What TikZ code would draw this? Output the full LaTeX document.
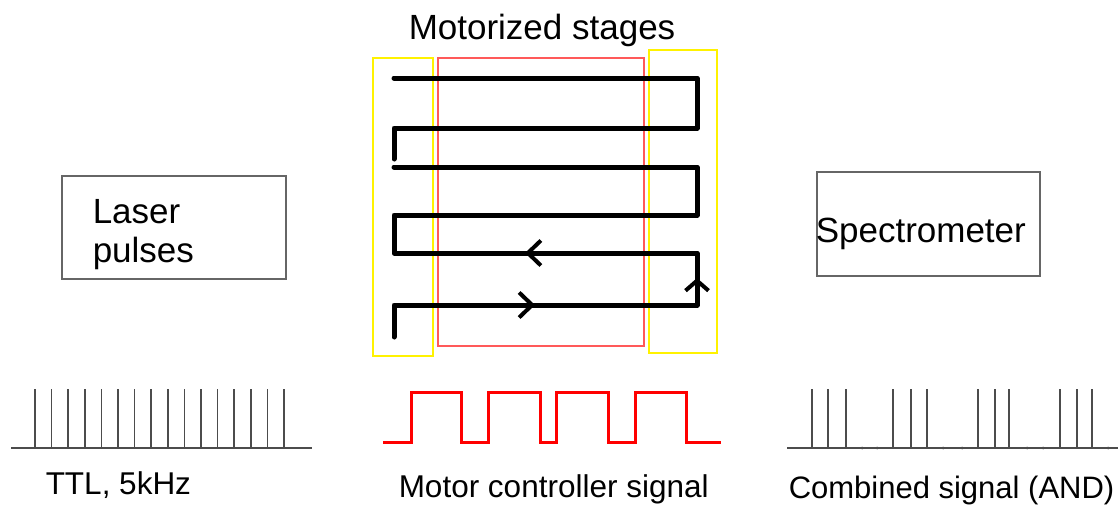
\documentclass[tikz,border=0pt]{standalone}
\usepackage{fontspec}
\setmainfont{Liberation Sans}
\usetikzlibrary{arrows.meta}
\begin{document}
\begin{tikzpicture}[x=1pt,y=-1pt,line width=1.5pt,
  every node/.style={inner sep=0pt,anchor=base west,font=\fontsize{35}{39}\selectfont},
  small/.style={font=\fontsize{31.5}{36}\selectfont},
  box/.style={draw=black!60,line width=1.6pt},
  pulse/.style={draw=black!70,line width=1.5pt},
  scan/.style={line width=5pt,line join=round,line cap=round},
  barb/.style={scan,line width=4pt,-{Straight Barb[length=13pt,width=25pt]}}]
  \path[use as bounding box] (0,0) rectangle (1118,504);
  % stages
  \node (stages) at (408,39) {Motorized stages};
  \draw[yellow] (373,58) rectangle (433,356);
  \draw[yellow] (649,50) rectangle (717,353);
  \draw[red!65] (438,58) rectangle (644,346);
  \draw[scan] (394,78)--(697,78)--(697,128)--(394,128)--(394,159);
  \draw[scan] (394,167)--(697,167)--(697,215)--(394,215)--(394,253)
    --(697,253)--(697,305)--(394,305)--(394,337);
  \draw[barb] (515,305)--(535,305);
  \draw[barb] (545,253)--(525,253);
  \draw[barb,-{Straight Barb[length=10pt,width=23pt]}] (697,297)--(697,278);
  % laser and spectrometer
  \draw[box] (62,176) rectangle (286,279);
  \node[align=left] (laser) at (92,262) {Laser\\pulses};
  \draw[box] (817,172) rectangle (1040,276);
  \node (spectro) at (815,242) {Spectrometer};
  % ttl pulses
  \draw[pulse] (11,448)--(312,448);
  \foreach \i in {0,...,15}
    \draw[pulse] ({35+16.6*\i},448)--++(0,-59);
  \node[small] (ttl) at (45,494) {TTL, 5kHz};
  % motor signal
  \draw[red,line width=3pt] (383,442)--(411,442)--(411,392)--(461,392)--(461,442)
    --(488,442)--(488,392)--(540,392)--(540,442)--(556,442)--(556,392)--(608,392)
    --(608,442)--(635,442)--(635,392)--(686,392)--(686,442)--(721,442);
  \node[small] (motor) at (398,497) {Motor controller signal};
  % combined
  \draw[pulse] (787,448)--(1118,448);
  \foreach \x in {812,828,846,893,911,927,978,995,1009,1060,1077,1092}
    \draw[pulse] (\x,448)--++(0,-59);
  \foreach \x in {862,877,943,962,1027,1043,1108}
    \fill[black!70] (\x,448) circle (1.5);
  \node[font=\fontsize{31}{36}\selectfont] (combined) at (788,498) {Combined signal (AND)};
\end{tikzpicture}
\end{document}
